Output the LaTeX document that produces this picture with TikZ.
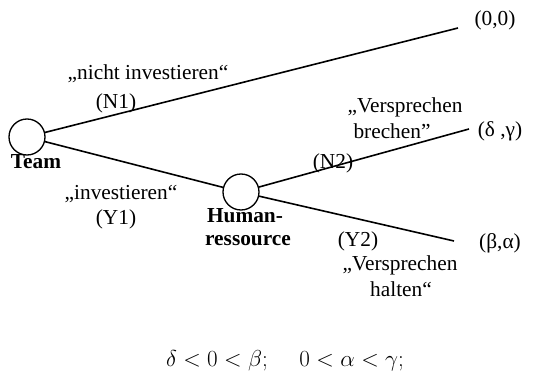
\documentclass[tikz,border=0pt]{standalone}
\usepackage{fontspec}
\setmainfont{Liberation Serif}
\begin{document}
\begin{tikzpicture}[x=0.75pt,y=-0.75pt,
  lbl/.style={font=\fontsize{16}{18}\selectfont, inner sep=0pt},
  blbl/.style={font=\fontsize{16}{18}\selectfont\bfseries, inner sep=0pt},
  dnode/.style={circle, draw, line width=1pt, minimum size=27pt, inner sep=0pt},
  edge/.style={line width=1.2pt}]
\useasboundingbox (0,0) rectangle (533,378);
\node[dnode] (team) at (27,137) {};
\node[dnode] (hr) at (241,192) {};
\coordinate (e1) at (458,28);
\coordinate (e2) at (469,129);
\coordinate (e3) at (454,241);
\draw[edge] (team) -- (e1);
\draw[edge] (team) -- (hr);
\draw[edge] (hr) -- (e2);
\draw[edge] (hr) -- (e3);
\node[lbl] (p00) at (495,20) {(0,0)};
\node[lbl] (ni) at (148,74) {„nicht investieren“};
\node[lbl] (n1) at (116,103) {(N1)};
\node[blbl] (teaml) at (36,162) {Team};
\node[lbl] (inv) at (121,194) {„investieren“};
\node[lbl] (y1) at (116,219) {(Y1)};
\node[blbl] (hum) at (245,216) {Human-};
\node[blbl] (res) at (248,241) {ressource};
\node[lbl] (vb1) at (405,107) {„Versprechen};
\node[lbl] (vb2) at (392,131) {brechen”};
\node[lbl] (n2) at (333,163) {(N2)};
\node[lbl] (p2) at (500,131) {(δ ,γ)};
\node[lbl] (y2) at (358,241) {(Y2)};
\node[lbl] (p3) at (500,243) {(β,α)};
\node[lbl] (vh1) at (400,265) {„Versprechen};
\node[lbl] (vh2) at (401,289) {halten“};
\node[font=\fontsize{16}{18}\selectfont, inner sep=0pt] (cond) at (285,361) {$\delta<0<\beta;\quad\; 0<\alpha<\gamma;$};
\end{tikzpicture}
\end{document}
